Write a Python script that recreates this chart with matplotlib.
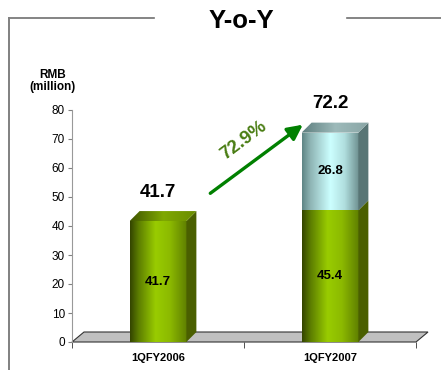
import numpy as np
import matplotlib.pyplot as plt
from matplotlib.colors import LinearSegmentedColormap
from matplotlib.patches import Polygon
from matplotlib.lines import Line2D

plt.rcParams['font.family'] = ['Liberation Sans', 'DejaVu Sans']

# data
categories = ['1QFY2006', '1QFY2007']
base = [41.7, 45.4]
extra = [0.0, 26.8]
totals = [41.7, 72.2]
growth_label = '72.9%'

W, H = 441, 370
fig = plt.figure(figsize=(W / 100, H / 100), dpi=100)

# axes area in pixels: x 72..416, y 342 (0) .. 110 (80)
ax = fig.add_axes([72 / W, (H - 342) / H, 344 / W, 232 / H])
ax.set_xlim(-0.5, 1.5)
ax.set_ylim(0, 80)
ax.patch.set_visible(False)

px_x = 2.0 / 344   # data units per pixel
px_y = 80.0 / 232

# floor
fdx, fdy = 12 * px_x, 10 * px_y
floor = Polygon([(-0.5, 0), (-0.5 + fdx, fdy), (1.5 + fdx, fdy), (1.5, 0)],
                closed=True, facecolor='#c0c0c0', edgecolor='#333333',
                lw=0.8, clip_on=False, zorder=1)
ax.add_patch(floor)

green_cmap = LinearSegmentedColormap.from_list(
    'g', [(0, '#334400'), (0.15, '#5c7d00'), (0.45, '#99cc00'),
          (0.7, '#8cba00'), (1, '#5f7f00')])
cyan_cmap = LinearSegmentedColormap.from_list(
    'c', [(0, '#5f8585'), (0.15, '#8fb5b5'), (0.5, '#ccffff'),
          (0.75, '#b0dede'), (1, '#6e9090')])
green_top = LinearSegmentedColormap.from_list('gt', ['#3f5500', '#7fa800', '#6a8c00'])
cyan_top = LinearSegmentedColormap.from_list('ct', ['#5e7f7f', '#9dbaba', '#8aa6a6'])

bw = 0.33
dx, dy = 10 * px_x, 10 * px_y
grad = np.linspace(0, 1, 256).reshape(1, -1)


def draw_seg(x, y0, y1, cmap, topcmap, side, top):
    bars = ax.bar([x], [y1 - y0], bottom=[y0], width=bw, color='none',
                  edgecolor='none', zorder=3)
    rect = bars.patches[0]
    im = ax.imshow(grad, cmap=cmap, aspect='auto', zorder=3,
                   extent=[x - bw / 2, x + bw / 2, y0, y1])
    im.set_clip_path(rect)
    sp = Polygon([(x + bw / 2, y0), (x + bw / 2 + dx, y0 + dy),
                  (x + bw / 2 + dx, y1 + dy), (x + bw / 2, y1)],
                 closed=True, facecolor=side, edgecolor='none', zorder=3)
    ax.add_patch(sp)
    if top:
        tp = Polygon([(x - bw / 2, y1), (x - bw / 2 + dx, y1 + dy),
                      (x + bw / 2 + dx, y1 + dy), (x + bw / 2, y1)],
                     closed=True, facecolor='none', edgecolor='none', zorder=3)
        ax.add_patch(tp)
        im2 = ax.imshow(grad, cmap=topcmap, aspect='auto', zorder=3,
                        extent=[x - bw / 2, x + bw / 2 + dx, y1, y1 + dy])
        im2.set_clip_path(tp)


for i, cat in enumerate(categories):
    draw_seg(i, 0, base[i], green_cmap, green_top, '#4a5f00', extra[i] == 0)
    if extra[i] > 0:
        draw_seg(i, base[i], base[i] + extra[i], cyan_cmap, cyan_top, '#587575', True)

# labels inside
for i in range(2):
    ax.text(i, base[i] / 2, f'{base[i]:.1f}', ha='center', va='center',
            fontsize=9.5, fontweight='bold', zorder=5)
    if extra[i] > 0:
        ax.text(i, base[i] + extra[i] / 2, f'{extra[i]:.1f}', ha='center',
                va='center', fontsize=9.5, fontweight='bold', zorder=5)
    ax.text(i, totals[i] + 7, f'{totals[i]:.1f}', ha='center', va='bottom',
            fontsize=13.5, fontweight='bold', zorder=5)

# growth arrow
ax.annotate('', xy=(0.855, 75.5), xytext=(0.291, 50.7),
            arrowprops=dict(arrowstyle='-|>,head_length=0.9,head_width=0.45',
                            color='#008000', lw=2.4), zorder=6)
ax.text(0.5, 69.5, growth_label, rotation=37, ha='center', va='center',
        fontsize=13.5, fontweight='bold', color='#4a7d14', zorder=6)

# axes styling
ax.set_yticks(range(0, 81, 10))
ax.set_xticks([0, 1])
ax.set_xticklabels(categories, fontsize=8, fontweight='bold')
ax.set_xticks([-0.5, 0.5, 1.5], minor=True)
ax.tick_params(axis='x', which='major', length=0, pad=8)
ax.tick_params(axis='x', which='minor', length=4, color='#333333')
ax.tick_params(axis='y', labelsize=8.5, length=3, color='#808080', pad=2)
for s in ['top', 'right']:
    ax.spines[s].set_visible(False)
ax.spines['left'].set_color('#999999')
ax.spines['bottom'].set_visible(False)

fig.text(53 / W, 1 - 81 / H, 'RMB\n(million)', ha='center', va='center',
         fontsize=8.5, fontweight='bold', linespacing=1.1)

# frame and title
fig.text(241 / W, 1 - 21 / H, 'Y-o-Y', ha='center', va='center',
         fontsize=18.5, fontweight='bold')
fy = 1 - 18 / H
fig.add_artist(Line2D([9 / W, 154 / W], [fy, fy], color='#707070', lw=1.2))
fig.add_artist(Line2D([347 / W, 1.0], [fy, fy], color='#707070', lw=1.2))
fig.add_artist(Line2D([9 / W, 9 / W], [fy, 0], color='#808080', lw=1.4))

fig.savefig('out.png', dpi=100)
